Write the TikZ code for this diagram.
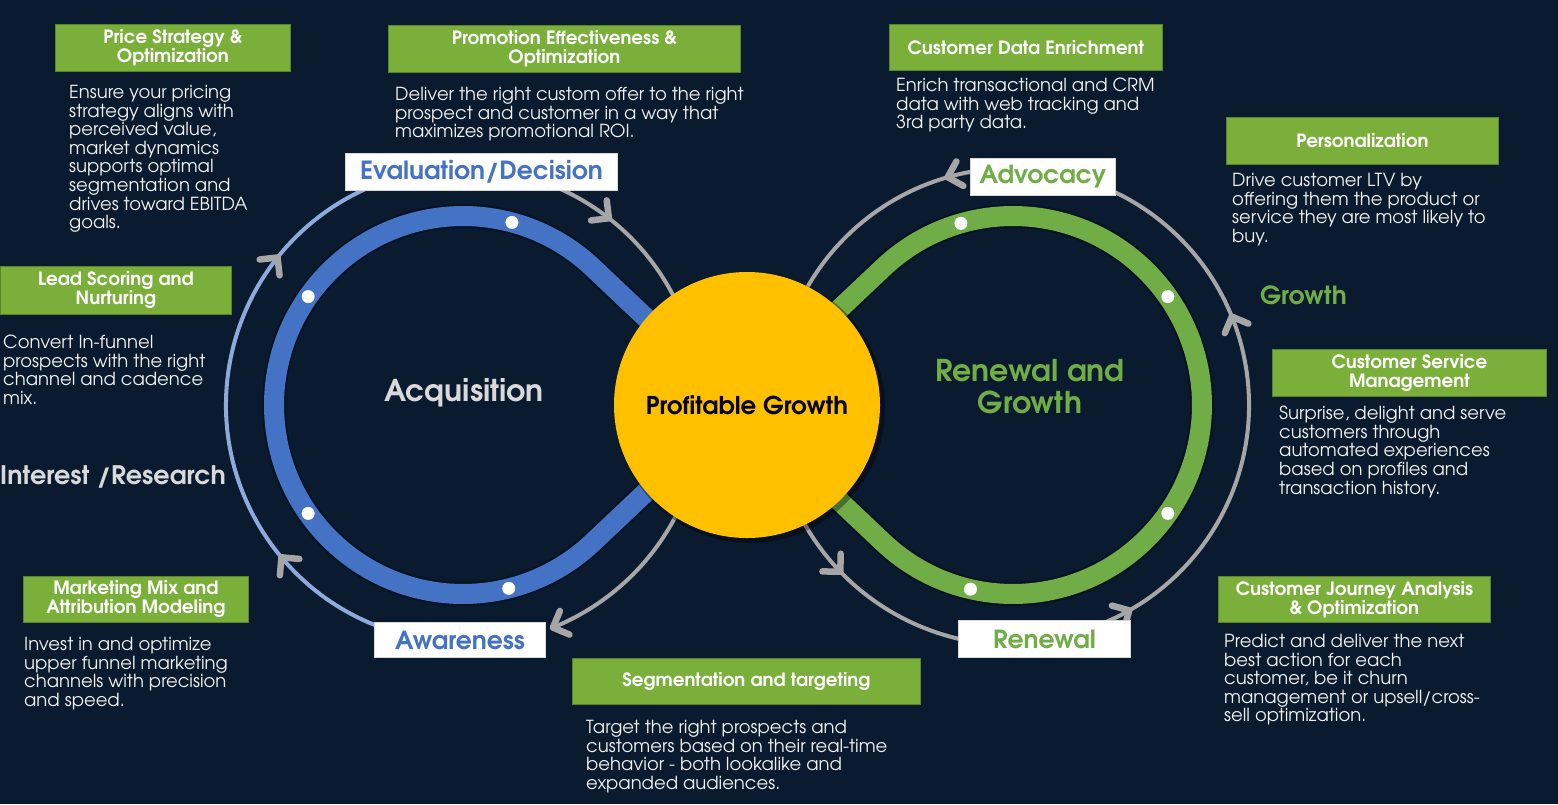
\documentclass[tikz,border=0pt]{standalone}
\usepackage{fontspec}
\setmainfont{TeX Gyre Adventor}
\usetikzlibrary{calc}
\definecolor{bg}{HTML}{0A1A2F}
\definecolor{gboxc}{HTML}{7AAF3A}
\definecolor{bandblue}{HTML}{4472C4}
\definecolor{bandgreen}{HTML}{70AD47}
\definecolor{lblue}{HTML}{8EA9DB}
\definecolor{arrgray}{HTML}{A6A6A6}
\definecolor{yel}{HTML}{FFC000}
\definecolor{bodytext}{HTML}{F2F2F2}
\definecolor{lgray}{HTML}{D9D9D9}
\tikzset{
  chevst/.style={arrgray, line width=6.5pt, line cap=round, line join=round},
  gtitle/.style={fill=gboxc, draw=gboxc!75!black, line width=0.8pt, text=white,
    font=\bfseries\fontsize{18.3}{19}\selectfont, align=center, inner sep=0pt, anchor=north west},
  bodytxt/.style={text=bodytext, font=\fontsize{18}{18.6}\selectfont, align=left, inner sep=0pt, anchor=north west},
  lbox/.style={fill=white, draw=lgray, line width=1pt, inner sep=0pt, anchor=north west,
    font=\bfseries\fontsize{25}{28}\selectfont},
  outline/.style={line width=4pt, arrgray},
  band/.style={line width=20pt, line join=round},
  dotw/.style={circle, fill=white, inner sep=0pt, minimum size=13pt},
  biglab/.style={font=\bfseries\fontsize{30}{32}\selectfont, align=center, inner sep=0pt}
}
% #1 centre, #2 angle on circle, #3 radius, #4 direction of travel
\newcommand{\mychevron}[4]{%
  \coordinate (chevtip) at ($(#1)+(#2:#3)$);
  \draw[chevst] (chevtip) ++(#4+135:18) -- (chevtip) -- ++(#4+225:18);}
\begin{document}
\begin{tikzpicture}[x=1pt,y=1pt]
\useasboundingbox (0,0) rectangle (1558,-804);
\fill[bg] (0,0) rectangle (1558,-804);
\coordinate (L) at (463,-405);
\coordinate (R) at (1013,-405);
\coordinate (X) at (738,-405);
% outer arcs, left loop
\draw[outline, lblue] ($(L)+(255:237)$) arc[start angle=255, end angle=100, radius=237];
\draw[outline] ($(L)+(100:237)$) arc[start angle=100, end angle=20, radius=237];
\draw[outline] ($(L)+(-20:240)$) arc[start angle=-20, end angle=-68, radius=240];
% outer arcs, right loop
\draw[outline] ($(R)+(200:240)$) arc[start angle=200, end angle=265, radius=240];
\draw[outline] ($(R)+(-80:236)$) arc[start angle=-80, end angle=95, radius=236];
\draw[outline] ($(R)+(95:237)$) arc[start angle=95, end angle=160, radius=237];
% chevrons
\mychevron{L}{220}{237}{130}
\mychevron{L}{141.5}{237}{51.5}
\mychevron{L}{52}{237}{-38}
\mychevron{L}{-68}{240}{-158}
\mychevron{R}{224}{240}{314}
\mychevron{R}{-60.5}{236}{29.5}
\mychevron{R}{22}{236}{112}
\mychevron{R}{106}{237}{196}
% band shadows
\draw[band, black, opacity=0.25, line width=24pt] (X) -- ($(L)+(46.6:189)$) arc[start angle=46.6, end angle=313.4, radius=189] -- (X);
\draw[band, black, opacity=0.25, line width=24pt] (X) -- ($(R)+(133.4:189)$) arc[start angle=133.4, end angle=-133.4, radius=189] -- (X);
% bands
\draw[band, bandblue] (X) -- ($(L)+(46.6:189)$) arc[start angle=46.6, end angle=313.4, radius=189] -- (X);
\draw[band, bandgreen] (X) -- ($(R)+(133.4:189)$) arc[start angle=133.4, end angle=-133.4, radius=189] -- (X);
% dots
\node[dotw] (db1) at ($(L)+(75:189)$) {};
\node[dotw] (db2) at ($(L)+(145:189)$) {};
\node[dotw] (db3) at ($(L)+(215:189)$) {};
\node[dotw] (db4) at ($(L)+(284:189)$) {};
\node[dotw] (dg1) at ($(R)+(106:189)$) {};
\node[dotw] (dg2) at ($(R)+(35:189)$) {};
\node[dotw] (dg3) at ($(R)+(-35:189)$) {};
\node[dotw] (dg4) at ($(R)+(257:189)$) {};
% core
\fill[black, opacity=0.35] (750,-408) circle[radius=135];
\node[circle, fill=yel, minimum size=266pt, inner sep=0pt, font=\bfseries\fontsize{24.5}{26}\selectfont, text=black] (core) at (747,-405) {Profitable Growth};
% big labels
\node[biglab, text=lgray] (acq) at (464,-393) {Acquisition};
\node[biglab, text=bandgreen] (ren) at (1030,-387) {Renewal and\\Growth};
\node[biglab, text=lgray, font=\bfseries\fontsize{25.5}{28}\selectfont, anchor=west] (interest) at (0,-477) {Interest /Research};
\node[biglab, text=bandgreen, font=\bfseries\fontsize{25}{28}\selectfont, anchor=west] (growth) at (1260,-295) {Growth};
% stage boxes
\node[lbox, text=bandblue, minimum width=272pt, minimum height=37pt] (eval) at (345,-153) {Evaluation/Decision};
\node[lbox, text=bandgreen, minimum width=145pt, minimum height=37pt] (adv) at (970,-158) {Advocacy};
\node[lbox, text=bandblue, minimum width=171pt, minimum height=35pt] (aware) at (374,-622) {Awareness};
\node[lbox, text=bandgreen, minimum width=172pt, minimum height=37pt] (renew) at (958,-620) {Renewal};
% green title boxes and bodies
\node[gtitle, minimum width=235pt, minimum height=47pt] (t1) at (55,-24) {Price Strategy \&\\Optimization};
\node[bodytxt] (b1) at (69,-85) {Ensure your pricing\\strategy aligns with\\perceived value,\\market dynamics\\supports optimal\\segmentation and\\drives toward EBITDA\\goals.};
\node[gtitle, minimum width=352pt, minimum height=47pt] (t2) at (388,-25) {Promotion Effectiveness \&\\Optimization};
\node[bodytxt] (b2) at (395,-87) {Deliver the right custom offer to the right\\prospect and customer in a way that\\maximizes promotional ROI.};
\node[gtitle, minimum width=273pt, minimum height=46pt] (t3) at (889,-24) {Customer Data Enrichment};
\node[bodytxt] (b3) at (896,-78) {Enrich transactional and CRM\\data with web tracking and\\3rd party data.};
\node[gtitle, minimum width=272pt, minimum height=47pt] (t4) at (1226,-117) {Personalization};
\node[bodytxt] (b4) at (1232,-173) {Drive customer LTV by\\offering them the product or\\service they are most likely to\\buy.};
\node[gtitle, minimum width=274pt, minimum height=47pt] (t5) at (1272,-349) {Customer Service\\Management};
\node[bodytxt] (b5) at (1279,-406) {Surprise, delight and serve\\customers through\\automated experiences\\based on profiles and\\transaction history.};
\node[gtitle, minimum width=231pt, minimum height=48pt] (t6) at (0,-266) {Lead Scoring and\\Nurturing};
\node[bodytxt] (b6) at (3,-335) {Convert In-funnel\\prospects with the right\\channel and cadence\\mix.};
\node[gtitle, minimum width=225pt, minimum height=46pt] (t7) at (23,-576) {Marketing Mix and\\Attribution Modeling};
\node[bodytxt] (b7) at (24,-637) {Invest in and optimize\\upper funnel marketing\\channels with precision\\and speed.};
\node[gtitle, minimum width=348pt, minimum height=46pt] (t8) at (572,-658) {Segmentation and targeting};
\node[bodytxt] (b8) at (586,-720) {Target the right prospects and\\customers based on their real-time\\behavior - both lookalike and\\expanded audiences.};
\node[gtitle, minimum width=272pt, minimum height=46pt] (t9) at (1218,-576) {Customer Journey Analysis\\\& Optimization};
\node[bodytxt] (b9) at (1224,-634) {Predict and deliver the next\\best action for each\\customer, be it churn\\management or upsell/cross-\\sell optimization.};
\end{tikzpicture}
\end{document}
